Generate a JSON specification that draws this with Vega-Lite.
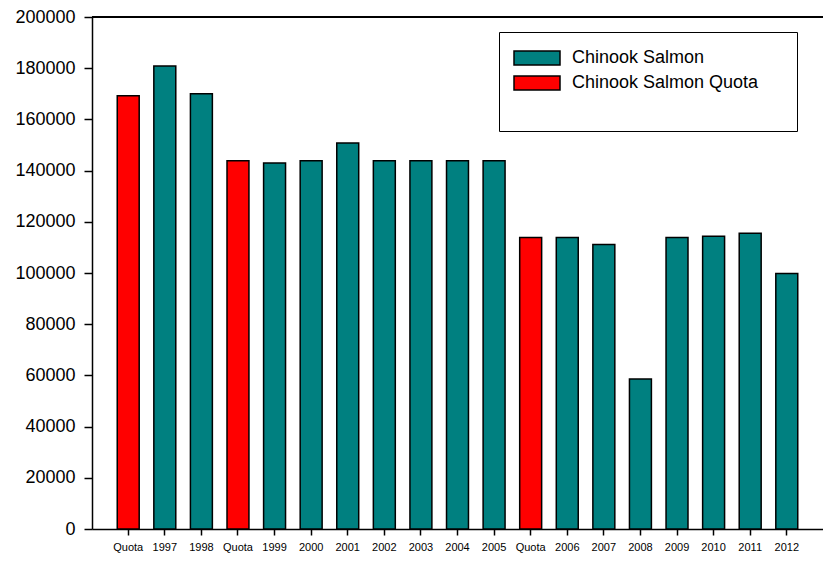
{
  "$schema": "https://vega.github.io/schema/vega-lite/v6.json",
  "autosize": "none",
  "width": 731,
  "height": 512,
  "padding": {"left": 92, "top": 17, "right": 0, "bottom": 32},
  "background": "white",
  "config": {
    "view": {"stroke": null},
    "font": "Liberation Sans",
    "axis": {"grid": false, "domainColor": "black", "tickColor": "black", "labelColor": "black", "domainWidth": 1.5, "tickWidth": 1.5}
  },
  "data": {
    "values": [
      {"cat": "Quota", "value": 169200, "type": "Chinook Salmon Quota"},
      {"cat": "1997", "value": 180900, "type": "Chinook Salmon"},
      {"cat": "1998", "value": 170000, "type": "Chinook Salmon"},
      {"cat": "Quota ", "value": 143800, "type": "Chinook Salmon Quota"},
      {"cat": "1999", "value": 143000, "type": "Chinook Salmon"},
      {"cat": "2000", "value": 143800, "type": "Chinook Salmon"},
      {"cat": "2001", "value": 150800, "type": "Chinook Salmon"},
      {"cat": "2002", "value": 143800, "type": "Chinook Salmon"},
      {"cat": "2003", "value": 143800, "type": "Chinook Salmon"},
      {"cat": "2004", "value": 143800, "type": "Chinook Salmon"},
      {"cat": "2005", "value": 143800, "type": "Chinook Salmon"},
      {"cat": "Quota  ", "value": 113900, "type": "Chinook Salmon Quota"},
      {"cat": "2006", "value": 113900, "type": "Chinook Salmon"},
      {"cat": "2007", "value": 111100, "type": "Chinook Salmon"},
      {"cat": "2008", "value": 58600, "type": "Chinook Salmon"},
      {"cat": "2009", "value": 113900, "type": "Chinook Salmon"},
      {"cat": "2010", "value": 114400, "type": "Chinook Salmon"},
      {"cat": "2011", "value": 115500, "type": "Chinook Salmon"},
      {"cat": "2012", "value": 99800, "type": "Chinook Salmon"}
    ]
  },
  "layer": [
    {
      "mark": {"type": "rule", "color": "black", "strokeWidth": 1.5},
      "encoding": {"y": {"datum": 200000, "type": "quantitative"}}
    },
    {
      "mark": {"type": "bar", "stroke": "black", "strokeWidth": 1.5},
      "encoding": {
        "x": {
          "field": "cat",
          "type": "ordinal",
          "sort": null,
          "scale": {"paddingInner": 0.4, "paddingOuter": 0.69},
          "axis": {"title": null, "labelAngle": 0, "labelFontSize": 11, "tickSize": 6, "labelPadding": 6, "labelExpr": "trim(datum.label)"}
        },
        "y": {
          "field": "value",
          "type": "quantitative",
          "scale": {"domain": [0, 200000], "nice": false},
          "axis": {"title": null, "values": [0, 20000, 40000, 60000, 80000, 100000, 120000, 140000, 160000, 180000, 200000], "labelFontSize": 18, "tickSize": 8, "labelPadding": 9, "format": "d"}
        },
        "color": {
          "field": "type",
          "type": "nominal",
          "scale": {"domain": ["Chinook Salmon", "Chinook Salmon Quota"], "range": ["#008080", "#ff0000"]},
          "legend": {
            "orient": "none",
            "legendX": 407,
            "legendY": 15,
            "title": "\u2800\u2800\u2800\u2800\u2800\u2800\u2800\u2800\u2800\u2800\u2800\u2800\u2800\u2800\u2800\u2800\u2800\u2800\u2800\u2800\u2800\u2800\u2800\u2800\u2800\u2800\u2800\u2800\u2800\u2800",
            "titleColor": "white",
            "titleOrient": "bottom",
            "titleFontSize": 12,
            "titlePadding": 13,
            "titleLimit": 1000,
            "padding": 14,
            "strokeColor": "black",
            "fillColor": "white",
            "labelFontSize": 18,
            "labelColor": "black",
            "labelOffset": 35,
            "rowPadding": 3,
            "symbolType": "M-1,-0.636H3.182V0.636H-1Z",
            "symbolSize": 484,
            "symbolStrokeColor": "black",
            "symbolStrokeWidth": 1.5,
            "symbolOpacity": 1,
            "labelLimit": 400
          }
        }
      }
    }
  ]
}
